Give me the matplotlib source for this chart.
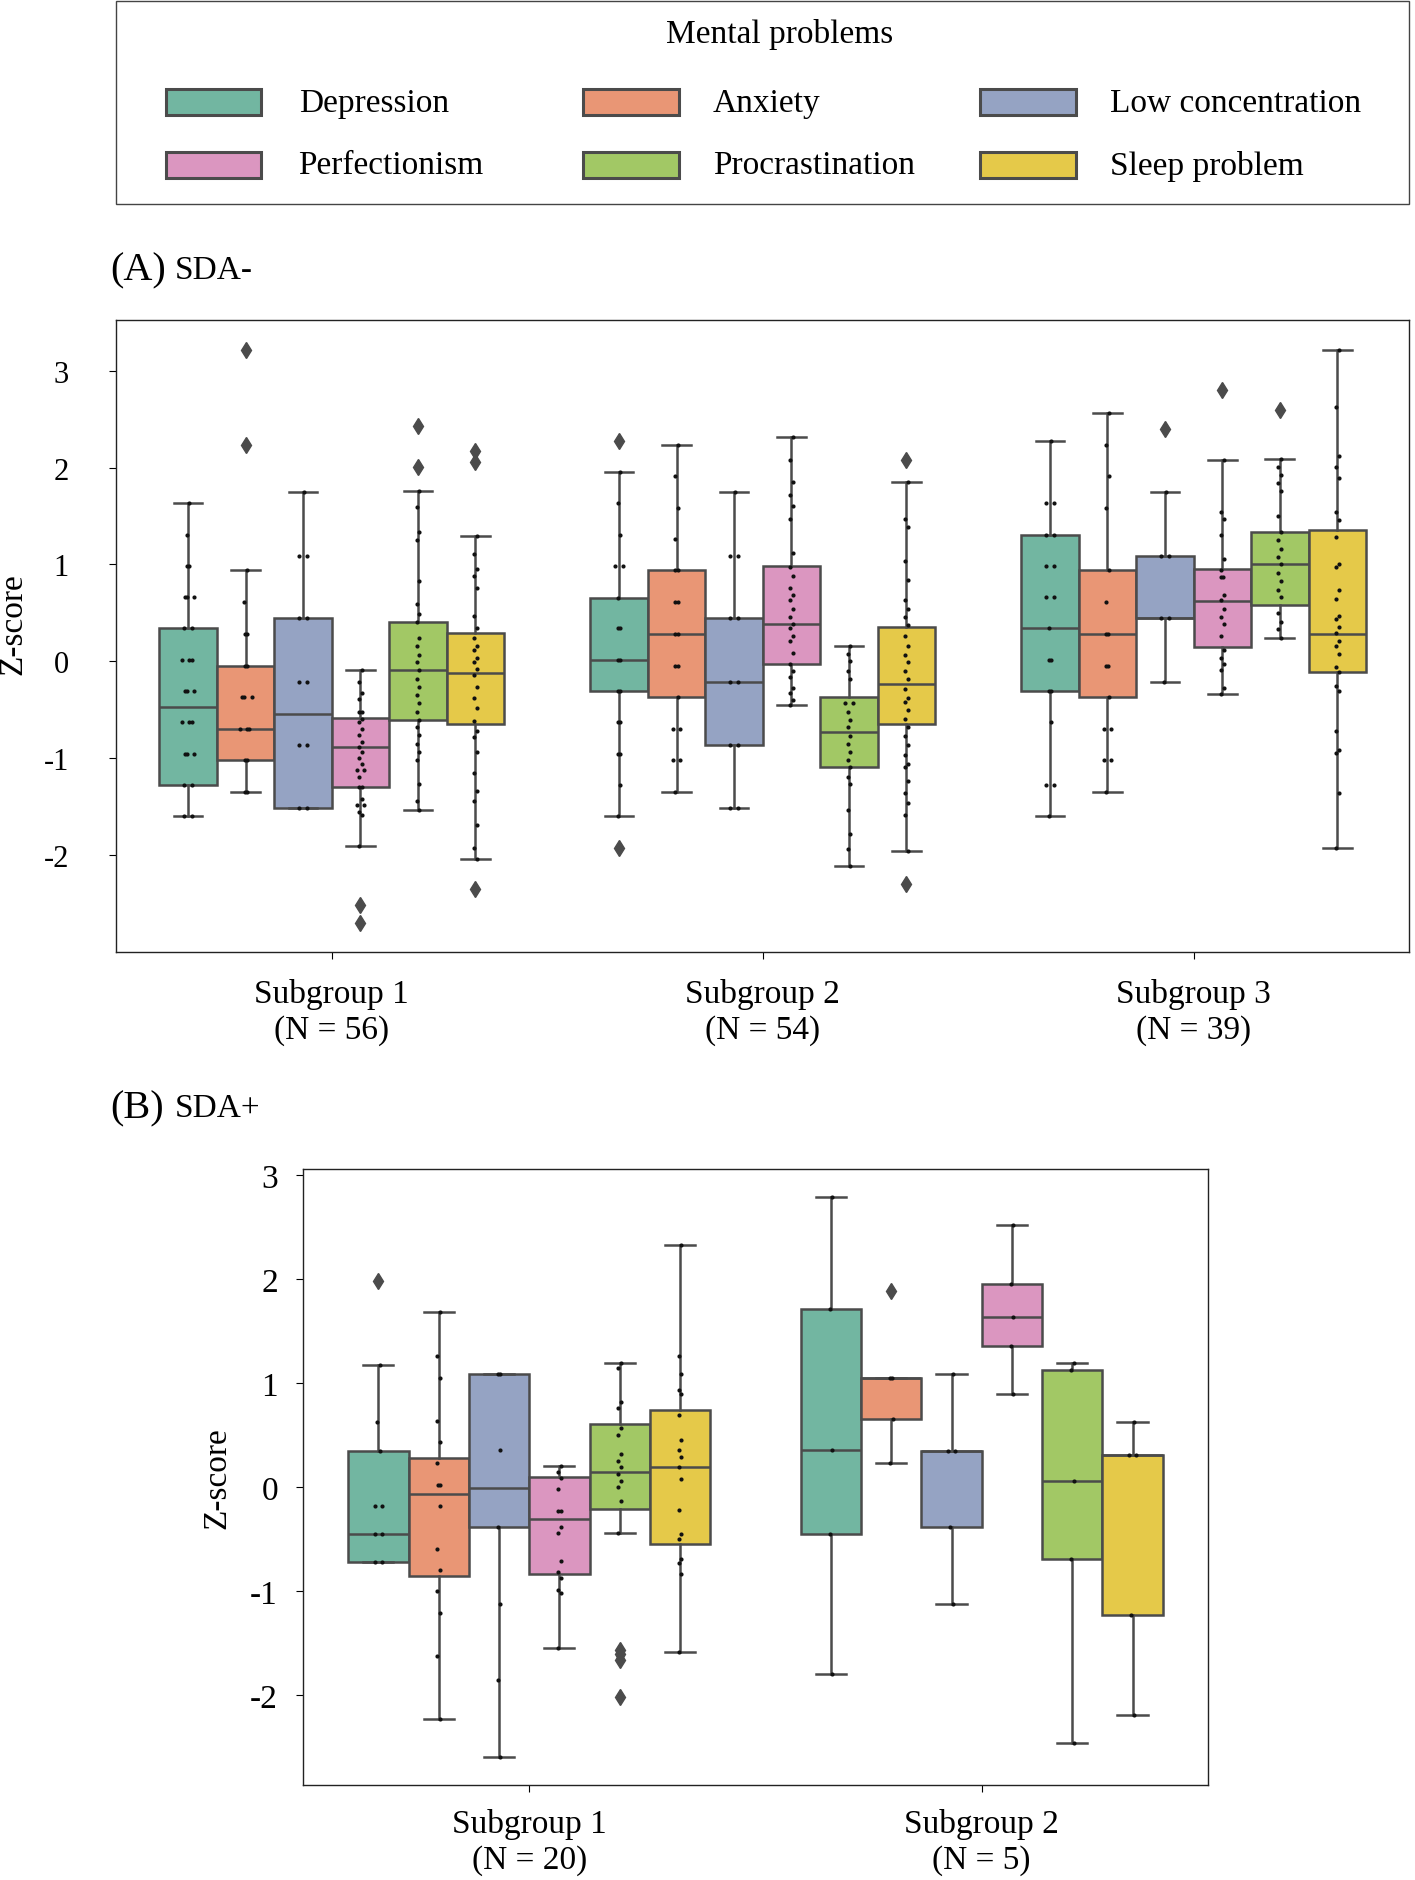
import numpy as np
import matplotlib
matplotlib.use("Agg")
import matplotlib.pyplot as plt
from matplotlib.patches import Rectangle
import seaborn as sns

plt.rcParams['font.family'] = ['Liberation Serif', 'DejaVu Serif']
plt.rcParams['axes.unicode_minus'] = False

problems = ["Depression", "Anxiety", "Low concentration",
            "Perfectionism", "Procrastination", "Sleep problem"]

# ---- (A) SDA- : box stats, order follows `problems`
a_groups = ["Subgroup 1\n(N = 56)", "Subgroup 2\n(N = 54)", "Subgroup 3\n(N = 39)"]

a1_med = [-0.47, -0.70, -0.54, -0.88, -0.09, -0.12]
a1_q1 = [-1.28, -1.02, -1.51, -1.30, -0.61, -0.65]
a1_q3 = [0.34, -0.05, 0.45, -0.58, 0.41, 0.29]
a1_lo = [-1.60, -1.35, -1.51, -1.91, -1.53, -2.04]
a1_hi = [1.63, 0.94, 1.75, -0.09, 1.76, 1.29]
a1_out = [[], [3.21, 2.23], [], [-2.51, -2.70], [2.43, 2.01], [2.17, 2.06, -2.35]]
a1_pts = [
    [1.63, 1.30, 0.98, 0.98, 0.66, 0.66, 0.66, 0.34, 0.34, 0.01, 0.01, 0.01, -0.31, -0.31, -0.31,
     -0.63, -0.63, -0.63, -0.96, -0.96, -0.96, -1.28, -1.28, -1.60, -1.60],
    [0.94, 0.61, 0.28, 0.28, -0.05, -0.05, -0.37, -0.37, -0.37, -0.70, -0.70, -0.70,
     -1.02, -1.02, -1.35, -1.35],
    [1.75, 1.09, 1.09, 0.45, 0.45, -0.21, -0.21, -0.86, -0.86, -1.51, -1.51],
    [-0.09, -0.21, -0.33, -0.39, -0.52, -0.52, -0.59, -0.63, -0.70, -0.76, -0.83, -0.88, -0.93,
     -1.00, -1.06, -1.12, -1.12, -1.19, -1.30, -1.30, -1.42, -1.48, -1.48, -1.55, -1.59, -1.91],
    [1.76, 1.59, 1.33, 1.25, 0.83, 0.59, 0.49, 0.41, 0.24, 0.16, 0.07, -0.01, -0.09, -0.18,
     -0.26, -0.35, -0.43, -0.52, -0.60, -0.68, -0.76, -0.85, -0.93, -1.02, -1.27, -1.44, -1.53],
    [1.29, 1.11, 0.95, 0.88, 0.76, 0.47, 0.34, 0.24, 0.16, 0.12, 0.03, -0.01, -0.08, -0.14,
     -0.26, -0.38, -0.48, -0.62, -0.72, -0.78, -0.94, -1.15, -1.34, -1.44, -1.69, -1.93, -2.04],
]

a2_med = [0.01, 0.28, -0.21, 0.39, -0.73, -0.23]
a2_q1 = [-0.31, -0.37, -0.86, -0.03, -1.09, -0.65]
a2_q3 = [0.65, 0.94, 0.45, 0.98, -0.37, 0.35]
a2_lo = [-1.60, -1.35, -1.51, -0.45, -2.11, -1.96]
a2_hi = [1.95, 2.23, 1.75, 2.32, 0.16, 1.85]
a2_out = [[2.27, -1.93], [], [], [], [], [2.08, -2.30]]
a2_pts = [
    [1.95, 1.63, 1.30, 0.98, 0.98, 0.65, 0.34, 0.34, 0.01, 0.01, -0.31, -0.31, -0.63, -0.63,
     -0.96, -0.96, -1.28, -1.60],
    [2.23, 1.91, 1.58, 1.26, 0.94, 0.94, 0.61, 0.61, 0.28, 0.28, -0.05, -0.05, -0.37, -0.70,
     -0.70, -1.02, -1.02, -1.35],
    [1.75, 1.09, 1.09, 0.45, 0.45, -0.21, -0.21, -0.86, -0.86, -1.51, -1.51],
    [2.32, 2.08, 1.85, 1.72, 1.60, 1.47, 1.12, 0.97, 0.88, 0.76, 0.69, 0.63, 0.54, 0.46, 0.39,
     0.34, 0.26, 0.21, 0.09, -0.03, -0.10, -0.16, -0.27, -0.33, -0.40, -0.45],
    [0.16, 0.08, 0.00, -0.10, -0.18, -0.43, -0.43, -0.52, -0.60, -0.68, -0.77, -0.85, -0.93,
     -1.02, -1.09, -1.19, -1.27, -1.53, -1.78, -1.94, -2.11],
    [1.85, 1.47, 1.39, 1.04, 0.84, 0.63, 0.54, 0.46, 0.38, 0.26, 0.16, 0.07, -0.01, -0.10,
     -0.18, -0.29, -0.38, -0.42, -0.50, -0.59, -0.68, -0.77, -0.86, -0.97, -1.06, -1.09,
     -1.23, -1.36, -1.46, -1.59, -1.96],
]

a3_med = [0.34, 0.28, 0.45, 0.62, 1.00, 0.28]
a3_q1 = [-0.31, -0.37, 0.45, 0.15, 0.58, -0.11]
a3_q3 = [1.30, 0.94, 1.09, 0.95, 1.33, 1.36]
a3_lo = [-1.60, -1.35, -0.21, -0.34, 0.24, -1.93]
a3_hi = [2.27, 2.56, 1.75, 2.08, 2.09, 3.21]
a3_out = [[], [], [2.40], [2.80], [2.59], []]
a3_pts = [
    [2.27, 1.63, 1.63, 1.30, 1.30, 0.98, 0.98, 0.66, 0.66, 0.34, 0.01, 0.01, -0.31, -0.31,
     -0.63, -1.28, -1.28, -1.60],
    [2.56, 2.23, 1.91, 1.58, 0.94, 0.61, 0.28, 0.28, -0.05, -0.05, -0.37, -0.70, -0.70,
     -1.02, -1.02, -1.35],
    [1.75, 1.09, 1.09, 0.45, 0.45, -0.21],
    [2.08, 1.54, 1.47, 1.30, 1.06, 0.94, 0.87, 0.87, 0.69, 0.63, 0.54, 0.46, 0.39, 0.26, 0.12,
     0.03, -0.03, -0.09, -0.27, -0.34],
    [2.09, 2.01, 1.92, 1.84, 1.76, 1.50, 1.33, 1.25, 1.16, 1.08, 1.00, 0.91, 0.83, 0.74, 0.66,
     0.50, 0.41, 0.33, 0.24],
    [3.21, 2.63, 2.12, 2.01, 1.89, 1.54, 1.46, 1.28, 1.01, 0.97, 0.74, 0.64, 0.47, 0.44, 0.35,
     0.29, 0.21, 0.16, 0.08, -0.06, -0.11, -0.25, -0.31, -0.72, -0.91, -0.95, -1.36, -1.93],
]

# ---- (B) SDA+
b_groups = ["Subgroup 1\n(N = 20)", "Subgroup 2\n(N = 5)"]

b1_med = [-0.45, -0.07, -0.01, -0.31, 0.15, 0.19]
b1_q1 = [-0.72, -0.85, -0.38, -0.83, -0.21, -0.55]
b1_q3 = [0.35, 0.28, 1.09, 0.10, 0.61, 0.74]
b1_lo = [-0.72, -2.23, -2.59, -1.55, -0.44, -1.58]
b1_hi = [1.17, 1.68, 1.09, 0.20, 1.19, 2.33]
b1_out = [[1.98], [], [], [], [-1.56, -1.60, -1.66, -2.02], []]
b1_pts = [
    [1.17, 0.63, 0.35, -0.18, -0.18, -0.45, -0.45, -0.72, -0.72],
    [1.68, 1.26, 1.05, 0.64, 0.43, 0.23, 0.02, 0.02, -0.18, -0.59, -0.80, -1.00, -1.21,
     -1.62, -2.23],
    [1.09, 1.09, 0.36, -0.38, -1.12, -1.85, -2.59],
    [0.20, 0.15, 0.09, -0.02, -0.23, -0.23, -0.38, -0.44, -0.71, -0.82, -0.87, -0.99, -1.02, -1.55],
    [1.19, 1.14, 0.82, 0.76, 0.57, 0.50, 0.32, 0.25, 0.19, 0.13, 0.06, 0.00, -0.13, -0.44],
    [2.33, 1.26, 1.09, 0.93, 0.89, 0.69, 0.45, 0.36, 0.29, 0.19, 0.08, -0.22, -0.45, -0.50,
     -0.69, -0.73, -0.83, -1.58],
]

b2_med = [0.36, 1.05, 0.35, 1.63, 0.06, 0.31]
b2_q1 = [-0.45, 0.65, -0.38, 1.36, -0.69, -1.23]
b2_q3 = [1.71, 1.05, 0.35, 1.95, 1.13, 0.31]
b2_lo = [-1.80, 0.23, -1.12, 0.89, -2.46, -2.19]
b2_hi = [2.79, 1.05, 1.09, 2.52, 1.19, 0.63]
b2_out = [[], [1.88], [], [], [], []]
b2_pts = [
    [2.79, 1.71, 0.36, -0.45, -1.80],
    [1.05, 1.05, 0.65, 0.23],
    [1.09, 0.35, 0.35, -0.38, -1.12],
    [2.52, 1.95, 1.63, 1.36, 0.89],
    [1.19, 1.13, 0.06, -0.69, -2.46],
    [0.63, 0.31, 0.31, -1.23, -2.19],
]

colors = [sns.desaturate(c, 0.75) for c in sns.color_palette("Set2", 6)]
edge = "#4b4b4b"
lw = 1.8


def draw_panel(ax, groups, meds, q1s, q3s, los, his, outs, pts):
    w = 0.8 / 6
    for g in range(len(groups)):
        for k in range(6):
            x = g - 0.4 + w * (k + 0.5)
            st = dict(med=meds[g][k], q1=q1s[g][k], q3=q3s[g][k],
                      whislo=los[g][k], whishi=his[g][k], fliers=outs[g][k])
            ax.bxp([st], positions=[x], widths=[w], patch_artist=True,
                   boxprops=dict(facecolor=colors[k], edgecolor=edge, linewidth=lw),
                   medianprops=dict(color=edge, linewidth=lw),
                   whiskerprops=dict(color=edge, linewidth=lw),
                   capprops=dict(color=edge, linewidth=lw),
                   flierprops=dict(marker='d', markerfacecolor=edge, markeredgecolor=edge,
                                   markersize=8),
                   manage_ticks=False, zorder=2)
            vals = np.asarray(pts[g][k], float)
            xs = np.full(len(vals), x)
            for v in np.unique(vals):
                idx = np.where(vals == v)[0]
                xs[idx] += (np.arange(len(idx)) - (len(idx) - 1) / 2) * 0.011
            xs += ((-1.0) ** np.arange(len(vals))) * 0.003
            ax.scatter(xs, vals, s=9, color='#111111', zorder=3, linewidths=0)
    ax.set_xticks(range(len(groups)))
    ax.set_xticklabels(groups)
    ax.set_xlim(-0.5, len(groups) - 0.5)
    ax.set_yticks([-2, -1, 0, 1, 2, 3])
    for s in ax.spines.values():
        s.set_linewidth(1.0)
        s.set_color('#222222')


fig = plt.figure(figsize=(14.15, 18.81), dpi=100)

axA = fig.add_axes([0.0822, 0.4933, 0.9136, 0.3359])
draw_panel(axA, a_groups, [a1_med, a2_med, a3_med], [a1_q1, a2_q1, a3_q1],
           [a1_q3, a2_q3, a3_q3], [a1_lo, a2_lo, a3_lo], [a1_hi, a2_hi, a3_hi],
           [a1_out, a2_out, a3_out], [a1_pts, a2_pts, a3_pts])
axA.set_ylim(-3.0, 3.52)
axA.set_ylabel("Z-score", fontsize=24)
axA.yaxis.set_label_coords(-0.068, 0.52)
axA.tick_params(axis='y', labelsize=22, length=5, pad=29)
axA.tick_params(axis='x', labelsize=24, length=5, pad=14)

axB = fig.add_axes([0.2141, 0.0506, 0.6396, 0.3276])
draw_panel(axB, b_groups, [b1_med, b2_med], [b1_q1, b2_q1], [b1_q3, b2_q3],
           [b1_lo, b2_lo], [b1_hi, b2_hi], [b1_out, b2_out], [b1_pts, b2_pts])
axB.set_ylim(-2.86, 3.06)
axB.set_ylabel("Z-score", fontsize=24, labelpad=13)
axB.tick_params(axis='y', labelsize=24, length=5, pad=13)
axB.tick_params(axis='x', labelsize=24, length=5, pad=12)

fig.text(0.0777, 1 - 271 / 1881, "(A)", fontsize=29, va='center')
fig.text(0.1237, 1 - 271 / 1881, "SDA-", fontsize=24, va='center')
fig.text(0.0777, 1 - 1109 / 1881, "(B)", fontsize=29, va='center')
fig.text(0.1237, 1 - 1109 / 1881, "SDA+", fontsize=24, va='center')

# legend box, laid out row by row like the original
fig.add_artist(Rectangle((0.0822, 0.8910), 0.9136, 0.1077, transform=fig.transFigure,
                         facecolor='none', edgecolor='#444444', linewidth=1.0))
fig.text(0.5509, 0.9818, "Mental problems", fontsize=24, ha='center', va='center')
patch_x = [0.1170, 0.4119, 0.6924]
label_x = [0.2110, 0.5039, 0.7845]
row_y = [0.9450, 0.9117]
for k, name in enumerate(problems):
    r, c = divmod(k, 3)
    fig.add_artist(Rectangle((patch_x[c], row_y[r] - 0.0069), 0.0678, 0.0138,
                             transform=fig.transFigure, facecolor=colors[k],
                             edgecolor=edge, linewidth=2.2))
    fig.text(label_x[c], row_y[r], name, fontsize=24, va='center')

fig.savefig("out.png", dpi=100)
